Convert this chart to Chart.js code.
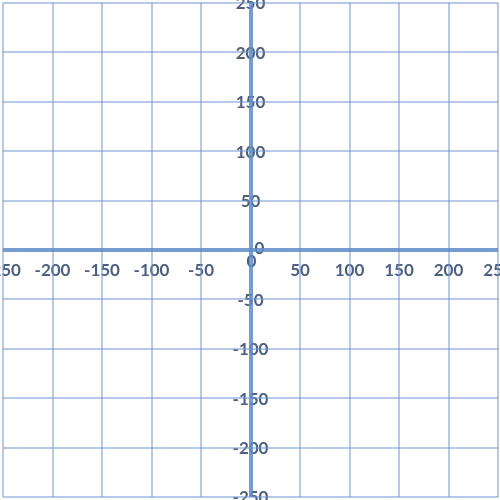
<!DOCTYPE html>
<html>
<head>
<meta charset="utf-8">
<script src="https://cdn.jsdelivr.net/npm/chart.js@4"></script>
<style>
  html, body { margin: 0; padding: 0; background: #fff; }
  #wrap { width: 500px; height: 500px; }
</style>
</head>
<body>
<div id="wrap"><canvas id="grid"></canvas></div>
<script>
// axis ranges and tick labels
var xMin = -250, xMax = 250;
var yMin = -250, yMax = 250;
var xTicks = [-250, -200, -150, -100, -50, 0, 50, 100, 150, 200, 250];
var yTicks = [-250, -200, -150, -100, -50, 0, 50, 100, 150, 200, 250];
var points = []; // nothing plotted, just the grid

var gridColor = 'rgba(110, 150, 210, 0.5)';
var axisColor = 'rgba(95, 140, 200, 0.85)';
var labelColor = '#4c5f80';

function lineColor(ctx) {
  return ctx.tick && ctx.tick.value === 0 ? axisColor : gridColor;
}
function lineWidth(ctx) {
  return ctx.tick && ctx.tick.value === 0 ? 4 : 2;
}

// tick labels sit on the axes, not on the chart edge
var axisLabels = {
  id: 'axisLabels',
  beforeDraw: function(chart) {
    var c = chart.ctx;
    var xs = chart.scales.x, ys = chart.scales.y;
    var x0 = xs.getPixelForValue(0), y0 = ys.getPixelForValue(0);
    c.save();
    c.font = 'bold 17px Lato, sans-serif';
    c.fillStyle = labelColor;
    c.textAlign = 'center';
    c.textBaseline = 'middle';
    xTicks.forEach(function(v) {
      var px = xs.getPixelForValue(v);
      if (v === 0) c.fillText(String(v), px + 1, y0 + 12);
      else c.fillText(String(v), px, y0 + 21);
    });
    yTicks.forEach(function(v) {
      var py = ys.getPixelForValue(v);
      if (v === 0) c.fillText(String(v), x0 + 9, py - 1);
      else c.fillText(String(v), x0, py + 1);
    });
    c.restore();
  }
};

var ctx = document.getElementById('grid').getContext('2d');
var chart = new Chart(ctx, {
  type: 'scatter',
  data: { datasets: [{ data: points, pointRadius: 0 }] },
  options: {
    responsive: true,
    maintainAspectRatio: false,
    animation: false,
    layout: { padding: { left: 3, right: 2, top: 3, bottom: 3 } },
    plugins: { legend: { display: false }, tooltip: { enabled: false } },
    scales: {
      x: {
        type: 'linear', min: xMin, max: xMax,
        afterBuildTicks: function(s) { s.ticks = xTicks.map(function(v) { return { value: v }; }); },
        ticks: { display: false },
        border: { display: false },
        grid: { color: lineColor, lineWidth: lineWidth, drawTicks: false }
      },
      y: {
        type: 'linear', min: yMin, max: yMax,
        afterBuildTicks: function(s) { s.ticks = yTicks.map(function(v) { return { value: v }; }); },
        ticks: { display: false },
        border: { display: false },
        grid: { color: lineColor, lineWidth: lineWidth, drawTicks: false }
      }
    }
  },
  plugins: [axisLabels]
});
</script>
</body>
</html>
